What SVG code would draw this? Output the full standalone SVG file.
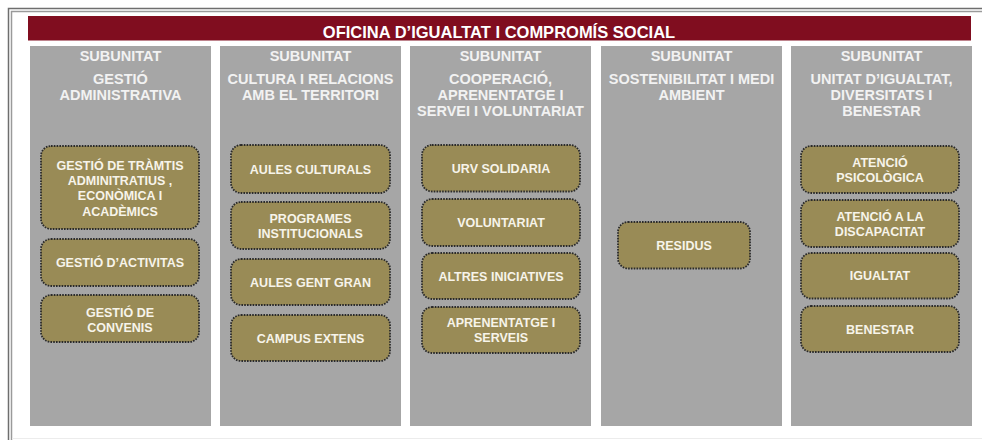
<svg xmlns="http://www.w3.org/2000/svg" width="982" height="440" viewBox="0 0 982 440">
<style>
.col{fill:#a6a6a6}
.hd{font-family:"Liberation Sans",Arial,sans-serif;font-weight:bold;font-size:14.5px;fill:#f2f2f2;text-anchor:middle}
.bx{fill:#998b56;stroke:#2a2a2a;stroke-width:1.8;stroke-dasharray:1.6 1.2}
.bt{font-family:"Liberation Sans",Arial,sans-serif;font-weight:bold;font-size:12.5px;fill:#f7f4ea;text-anchor:middle}
</style>
<rect width="982" height="440" fill="#ffffff"/>
<g id="frame" fill="none">
<path d="M8.5 440 V8.5 H982" stroke="#6e6e6e" stroke-width="1.5"/>
<path d="M11.5 440 V11.5 H982" stroke="#9a9a9a" stroke-width="1.5"/>
<path d="M12 438.5 H982" stroke="#ececec" stroke-width="1"/>
</g>
<g id="title">
<rect x="28" y="16" width="943" height="24.5" fill="#800d1f"/>
<text x="499" y="38" font-family="'Liberation Sans',Arial,sans-serif" font-weight="bold" font-size="16.5" fill="#ffffff" text-anchor="middle">OFICINA D’IGUALTAT I COMPROMÍS SOCIAL</text>
</g>
<g id="col1">
<rect class="col" x="30" y="46" width="181" height="380"/>
<text class="hd" x="120.5" y="60.5">SUBUNITAT</text>
<text class="hd" x="120.5" y="83.5">GESTIÓ</text>
<text class="hd" x="120.5" y="99.5">ADMINISTRATIVA</text>
</g>
<g id="col2">
<rect class="col" x="220" y="46" width="181" height="380"/>
<text class="hd" x="310.5" y="60.5">SUBUNITAT</text>
<text class="hd" x="310.5" y="83.5">CULTURA I RELACIONS</text>
<text class="hd" x="310.5" y="99.5">AMB EL TERRITORI</text>
</g>
<g id="col3">
<rect class="col" x="410" y="46" width="181" height="380"/>
<text class="hd" x="500.5" y="60.5">SUBUNITAT</text>
<text class="hd" x="500.5" y="83.5">COOPERACIÓ,</text>
<text class="hd" x="500.5" y="99.5">APRENENTATGE I</text>
<text class="hd" x="500.5" y="115.5">SERVEI I VOLUNTARIAT</text>
</g>
<g id="col4">
<rect class="col" x="601" y="46" width="181" height="380"/>
<text class="hd" x="691.5" y="60.5">SUBUNITAT</text>
<text class="hd" x="691.5" y="83.5">SOSTENIBILITAT I MEDI</text>
<text class="hd" x="691.5" y="99.5">AMBIENT</text>
</g>
<g id="col5">
<rect class="col" x="791" y="46" width="181" height="380"/>
<text class="hd" x="881.5" y="60.5">SUBUNITAT</text>
<text class="hd" x="881.5" y="83.5">UNITAT D’IGUALTAT,</text>
<text class="hd" x="881.5" y="99.5">DIVERSITATS I</text>
<text class="hd" x="881.5" y="115.5">BENESTAR</text>
</g>
<g id="n-tramits">
<rect class="bx" x="41" y="146" width="158" height="83" rx="10"/>
<text class="bt" x="120" y="169.5">GESTIÓ DE TRÀMTIS</text>
<text class="bt" x="120" y="184.8">ADMINITRATIUS ,</text>
<text class="bt" x="120" y="200">ECONÒMICA I</text>
<text class="bt" x="120" y="215.5">ACADÈMICS</text>
</g>
<g id="n-activitas">
<rect class="bx" x="41" y="239" width="158" height="47" rx="10"/>
<text class="bt" x="120" y="267">GESTIÓ D’ACTIVITAS</text>
</g>
<g id="n-convenis">
<rect class="bx" x="41" y="295" width="158" height="47" rx="10"/>
<text class="bt" x="120" y="316.5">GESTIÓ DE</text>
<text class="bt" x="120" y="331.5">CONVENIS</text>
</g>
<g id="n-aules-culturals">
<rect class="bx" x="231" y="145" width="159" height="48" rx="10"/>
<text class="bt" x="310.5" y="173.5">AULES CULTURALS</text>
</g>
<g id="n-programes">
<rect class="bx" x="231" y="202" width="159" height="47" rx="10"/>
<text class="bt" x="310.5" y="222.5">PROGRAMES</text>
<text class="bt" x="310.5" y="237.5">INSTITUCIONALS</text>
</g>
<g id="n-gent-gran">
<rect class="bx" x="231" y="259" width="159" height="46" rx="10"/>
<text class="bt" x="310.5" y="286.5">AULES GENT GRAN</text>
</g>
<g id="n-campus">
<rect class="bx" x="231" y="315" width="159" height="46" rx="10"/>
<text class="bt" x="310.5" y="342.5">CAMPUS EXTENS</text>
</g>
<g id="n-urv">
<rect class="bx" x="422" y="145" width="158" height="46.5" rx="10"/>
<text class="bt" x="501" y="172.5">URV SOLIDARIA</text>
</g>
<g id="n-voluntariat">
<rect class="bx" x="422" y="199" width="158" height="47" rx="10"/>
<text class="bt" x="501" y="226.5">VOLUNTARIAT</text>
</g>
<g id="n-altres">
<rect class="bx" x="422" y="253" width="158" height="46" rx="10"/>
<text class="bt" x="501" y="280.5">ALTRES INICIATIVES</text>
</g>
<g id="n-aprenentatge">
<rect class="bx" x="422" y="307" width="158" height="46" rx="10"/>
<text class="bt" x="501" y="326.5">APRENENTATGE I</text>
<text class="bt" x="501" y="341.5">SERVEIS</text>
</g>
<g id="n-residus">
<rect class="bx" x="618" y="222" width="132" height="46.5" rx="10"/>
<text class="bt" x="684" y="249.5">RESIDUS</text>
</g>
<g id="n-psicologica">
<rect class="bx" x="801" y="146" width="158" height="47" rx="10"/>
<text class="bt" x="880" y="166.5">ATENCIÓ</text>
<text class="bt" x="880" y="181.5">PSICOLÒGICA</text>
</g>
<g id="n-discapacitat">
<rect class="bx" x="801" y="200" width="158" height="47" rx="10"/>
<text class="bt" x="880" y="220.5">ATENCIÓ A LA</text>
<text class="bt" x="880" y="235.5">DISCAPACITAT</text>
</g>
<g id="n-igualtat">
<rect class="bx" x="801" y="253" width="158" height="45.5" rx="10"/>
<text class="bt" x="880" y="280">IGUALTAT</text>
</g>
<g id="n-benestar">
<rect class="bx" x="801" y="306" width="158" height="46" rx="10"/>
<text class="bt" x="880" y="333.5">BENESTAR</text>
</g>
<g id="connectors"/>
</svg>
